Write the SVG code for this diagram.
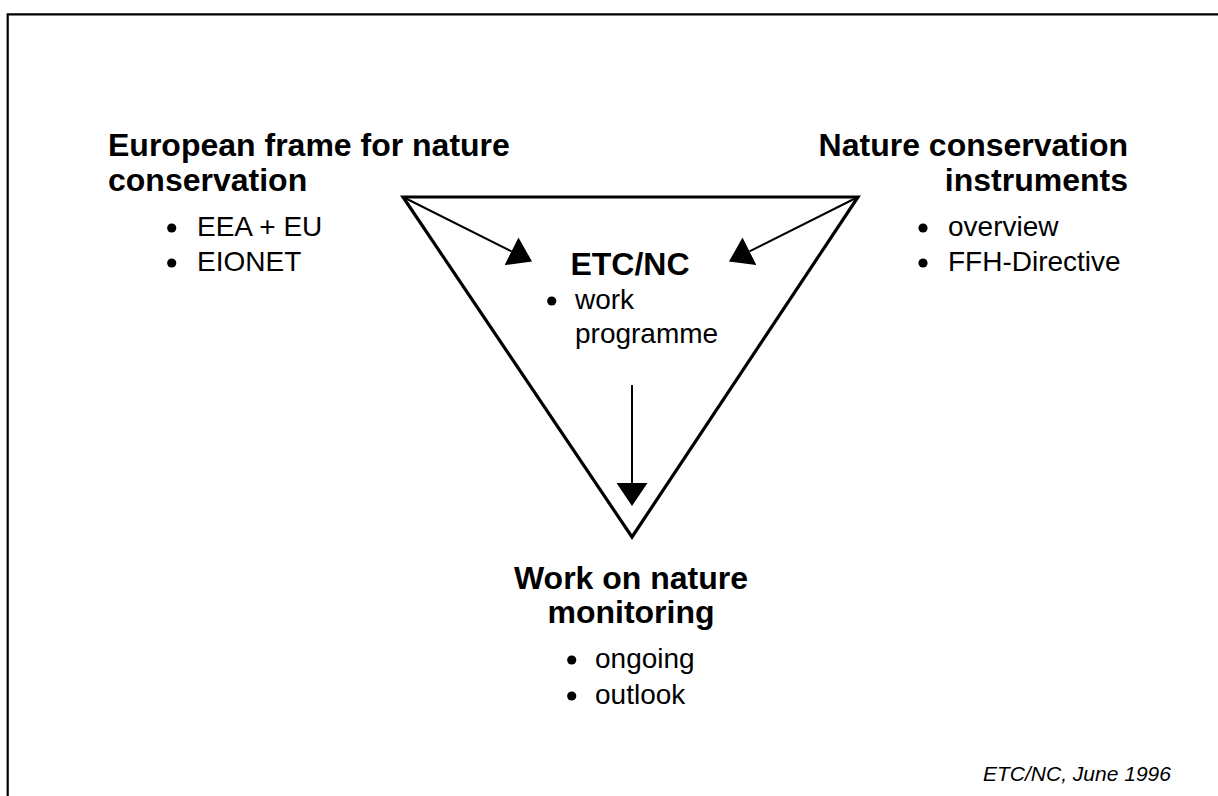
<svg xmlns="http://www.w3.org/2000/svg" width="1218" height="796" viewBox="0 0 1218 796">
<style>
  .t { font-family: "Liberation Sans", Arial, sans-serif; fill: #000; }
  .h { font-size: 32px; font-weight: bold; }
  .b { font-size: 28px; }
  .f { font-size: 21px; font-style: italic; }
  .dot { fill: #000; }
  .edge { stroke: #000; stroke-width: 2; fill: none; }
</style>
<defs>
  <marker id="ah" viewBox="0 0 23 31" markerWidth="23" markerHeight="31" refX="0" refY="15.5" orient="auto" markerUnits="userSpaceOnUse">
    <path d="M0,0 L23,15.5 L0,31 Z" fill="#000"/>
  </marker>
</defs>
<rect width="1218" height="796" fill="#fff"/>
<path d="M7.7,796 V14.3 H1218" fill="none" stroke="#000" stroke-width="2.2"/>

<g id="triangle">
  <polygon points="403,197 858,197 632,537" fill="none" stroke="#000" stroke-width="3.2" stroke-linejoin="miter"/>
</g>

<g id="connectors">
  <line class="edge" x1="403" y1="197" x2="511.5" y2="251.3" marker-end="url(#ah)"/>
  <line class="edge" x1="858" y1="197" x2="749.5" y2="251.3" marker-end="url(#ah)"/>
  <line class="edge" x1="632" y1="385" x2="632" y2="483" marker-end="url(#ah)"/>
</g>

<g id="node-european">
  <text class="t h" x="108" y="156">European frame for nature</text>
  <text class="t h" x="108" y="191">conservation</text>
  <circle class="dot" cx="171.7" cy="228" r="4.6"/>
  <text class="t b" x="197" y="236">EEA + EU</text>
  <circle class="dot" cx="171.7" cy="263" r="4.6"/>
  <text class="t b" x="197" y="271">EIONET</text>
</g>

<g id="node-instruments">
  <text class="t h" x="1128" y="156" text-anchor="end">Nature conservation</text>
  <text class="t h" x="1128" y="191" text-anchor="end">instruments</text>
  <circle class="dot" cx="923" cy="228" r="4.6"/>
  <text class="t b" x="948" y="236">overview</text>
  <circle class="dot" cx="923" cy="263" r="4.6"/>
  <text class="t b" x="948" y="271">FFH-Directive</text>
</g>

<g id="node-etcnc">
  <text class="t h" x="630" y="275" text-anchor="middle">ETC/NC</text>
  <circle class="dot" cx="551.7" cy="301" r="4.6"/>
  <text class="t b" x="575" y="309">work</text>
  <text class="t b" x="575" y="343">programme</text>
</g>

<g id="node-monitoring">
  <text class="t h" x="631" y="589" text-anchor="middle">Work on nature</text>
  <text class="t h" x="631" y="623" text-anchor="middle">monitoring</text>
  <circle class="dot" cx="571.7" cy="660" r="4.6"/>
  <text class="t b" x="595" y="668">ongoing</text>
  <circle class="dot" cx="571.7" cy="696" r="4.6"/>
  <text class="t b" x="595" y="704">outlook</text>
</g>

<g id="footer">
  <text class="t f" x="983" y="781">ETC/NC, June 1996</text>
</g>
</svg>
